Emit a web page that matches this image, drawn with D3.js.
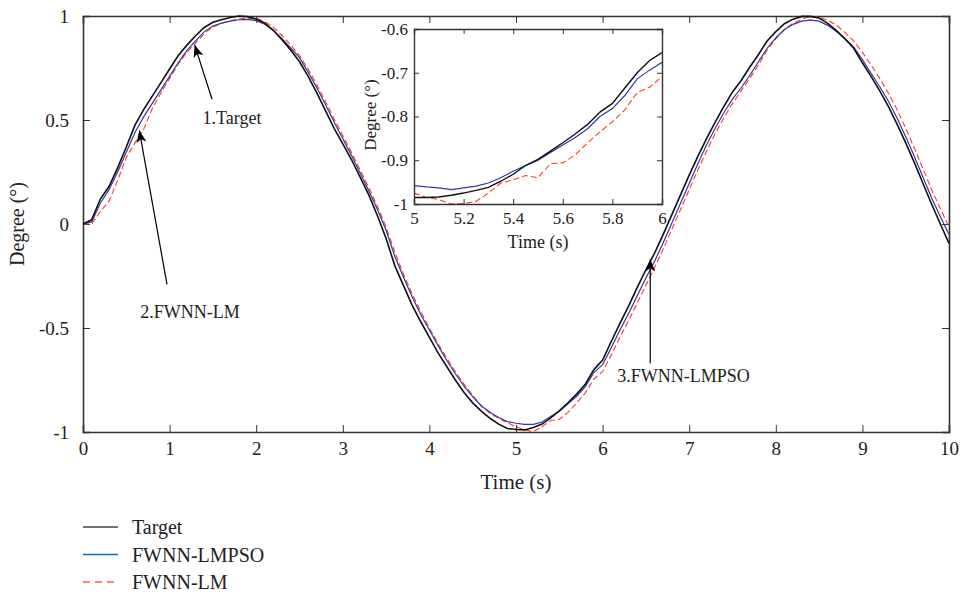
<!DOCTYPE html>
<html>
<head>
<meta charset="utf-8">
<script src="https://cdnjs.cloudflare.com/ajax/libs/d3/7.8.5/d3.min.js"></script>
<style>
  body { margin: 0; background: #fff; }
  svg text { font-family: "Liberation Serif", "DejaVu Serif", serif !important; fill: #222; }
</style>
</head>
<body>
<div class="chart"></div>
<script>
var times = [0,0.1,0.2,0.3,0.4,0.5,0.6,0.7,0.8,0.9,1,1.1,1.2,1.3,1.4,1.5,1.6,1.7,1.8,1.9,2,2.1,2.2,2.3,2.4,2.5,2.6,2.7,2.8,2.9,3,3.1,3.2,3.3,3.4,3.5,3.6,3.7,3.8,3.9,4,4.1,4.2,4.3,4.4,4.5,4.6,4.7,4.8,4.9,5,5.1,5.2,5.3,5.4,5.5,5.6,5.7,5.8,5.9,6,6.1,6.2,6.3,6.4,6.5,6.6,6.7,6.8,6.9,7,7.1,7.2,7.3,7.4,7.5,7.6,7.7,7.8,7.9,8,8.1,8.2,8.3,8.4,8.5,8.6,8.7,8.8,8.9,9,9.1,9.2,9.3,9.4,9.5,9.6,9.7,9.8,9.9,10];

var target = [0,0.02,0.12,0.18,0.27,0.37,0.475,0.55,0.615,0.68,0.745,0.81,0.86,0.905,0.945,0.97,0.982,0.993,1,0.997,0.985,0.965,0.93,0.885,0.835,0.78,0.71,0.63,0.545,0.46,0.385,0.31,0.225,0.14,0.04,-0.07,-0.2,-0.295,-0.39,-0.47,-0.545,-0.62,-0.685,-0.75,-0.81,-0.86,-0.9,-0.934,-0.962,-0.983,-0.988,-0.99,-0.978,-0.962,-0.932,-0.898,-0.86,-0.818,-0.77,-0.70,-0.654,-0.565,-0.478,-0.395,-0.305,-0.22,-0.14,-0.05,0.045,0.14,0.235,0.325,0.41,0.49,0.565,0.635,0.69,0.755,0.815,0.88,0.925,0.963,0.985,0.998,0.998,0.99,0.965,0.93,0.89,0.845,0.775,0.71,0.64,0.565,0.48,0.39,0.295,0.195,0.095,0,-0.093];

var lmpso = [0,0.01,0.10,0.165,0.25,0.345,0.44,0.515,0.58,0.645,0.71,0.775,0.835,0.88,0.925,0.952,0.966,0.975,0.982,0.984,0.978,0.96,0.93,0.89,0.845,0.80,0.73,0.655,0.575,0.49,0.41,0.33,0.245,0.16,0.07,-0.03,-0.155,-0.255,-0.35,-0.435,-0.51,-0.585,-0.655,-0.72,-0.78,-0.83,-0.875,-0.905,-0.93,-0.95,-0.958,-0.963,-0.963,-0.952,-0.925,-0.90,-0.865,-0.828,-0.782,-0.714,-0.676,-0.595,-0.51,-0.43,-0.345,-0.26,-0.18,-0.09,0.005,0.10,0.195,0.29,0.38,0.46,0.535,0.60,0.655,0.715,0.78,0.845,0.895,0.935,0.96,0.975,0.98,0.975,0.955,0.925,0.89,0.85,0.79,0.725,0.66,0.59,0.51,0.42,0.325,0.225,0.125,0.035,-0.05];

var lm = [0,0,0.06,0.11,0.21,0.32,0.39,0.455,0.555,0.63,0.70,0.77,0.825,0.87,0.915,0.948,0.965,0.978,0.985,0.99,0.99,0.972,0.945,0.905,0.86,0.81,0.745,0.67,0.59,0.505,0.425,0.345,0.26,0.175,0.085,-0.015,-0.135,-0.24,-0.335,-0.42,-0.50,-0.575,-0.645,-0.71,-0.77,-0.825,-0.875,-0.91,-0.935,-0.955,-0.975,-0.99,-0.999,-0.975,-0.945,-0.94,-0.906,-0.86,-0.812,-0.745,-0.709,-0.63,-0.545,-0.465,-0.38,-0.295,-0.21,-0.12,-0.025,0.07,0.165,0.26,0.35,0.435,0.51,0.58,0.64,0.70,0.765,0.835,0.89,0.935,0.965,0.985,0.997,0.995,0.98,0.955,0.92,0.88,0.825,0.765,0.70,0.63,0.55,0.46,0.365,0.265,0.165,0.075,-0.015];

// zoomed window 5..6 s, every 0.05 s
var zoomTimes = [5,5.05,5.1,5.15,5.2,5.25,5.3,5.35,5.4,5.45,5.5,5.55,5.6,5.65,5.7,5.75,5.8,5.85,5.9,5.95,6];
var zoomTarget = [-0.985,-0.985,-0.984,-0.98,-0.975,-0.969,-0.962,-0.948,-0.932,-0.912,-0.898,-0.879,-0.86,-0.84,-0.818,-0.79,-0.77,-0.735,-0.70,-0.672,-0.654];
var zoomLmpso = [-0.958,-0.961,-0.963,-0.967,-0.963,-0.959,-0.952,-0.94,-0.925,-0.912,-0.90,-0.882,-0.865,-0.848,-0.828,-0.80,-0.782,-0.752,-0.714,-0.694,-0.676];
var zoomLm = [-0.975,-0.985,-0.99,-1.0,-0.999,-0.994,-0.975,-0.952,-0.945,-0.935,-0.94,-0.908,-0.906,-0.888,-0.86,-0.835,-0.812,-0.785,-0.745,-0.733,-0.709];

var xTicks = [0,1,2,3,4,5,6,7,8,9,10];
var yTicks = [-1,-0.5,0,0.5,1];
var zxTicks = [5,5.2,5.4,5.6,5.8,6];
var zyTicks = [-1,-0.9,-0.8,-0.7,-0.6];

var seriesNames = ["Target", "FWNN-LMPSO", "FWNN-LM"];

var black = "#111", blue = "#3434a8", red = "#ff3a1e";
var serif = "Liberation Serif, serif";

var svg = d3.select(".chart").append("svg")
  .attr("width", 963)
  .attr("height", 594);

// main axes
var x = d3.scaleLinear().domain([0, 10]).range([83, 949]);
var y = d3.scaleLinear().domain([-1, 1]).range([432, 16]);

function fmt(d) { return String(d); }

function styleAxis(size) {
  return function (g) {
    g.attr("font-family", serif);
    g.select(".domain").attr("stroke", "#333").attr("stroke-width", 1.6);
    g.selectAll(".tick line").attr("stroke", "#333").attr("stroke-width", 1);
    g.selectAll(".tick text")
      .attr("font-size", size)
      .style("font-family", serif)
      .attr("fill", "#222");
  };
}

svg.append("g")
  .attr("transform", "translate(0,432)")
  .call(d3.axisBottom(x).tickValues(xTicks).tickSize(-7).tickPadding(10).tickFormat(fmt))
  .call(styleAxis(19));
svg.append("g")
  .attr("transform", "translate(0,16)")
  .call(d3.axisTop(x).tickValues(xTicks).tickSize(-7).tickFormat(""))
  .call(styleAxis(19));
svg.append("g")
  .attr("transform", "translate(83,0)")
  .call(d3.axisLeft(y).tickValues(yTicks).tickSize(-7).tickPadding(14).tickFormat(fmt))
  .call(styleAxis(19));
svg.append("g")
  .attr("transform", "translate(949,0)")
  .call(d3.axisRight(y).tickValues(yTicks).tickSize(-7).tickFormat(""))
  .call(styleAxis(19));

function drawLines(g, xs, ys, t, a, b, c, widths) {
  var line = d3.line()
    .x(function (d, i) { return xs(t[i]); })
    .y(function (d) { return ys(d); });
  g.append("path").datum(c)
    .attr("d", line).attr("fill", "none")
    .attr("stroke", red).attr("stroke-width", widths[2])
    .attr("stroke-dasharray", "6,3");
  g.append("path").datum(b)
    .attr("d", line).attr("fill", "none")
    .attr("stroke", blue).attr("stroke-width", widths[1]);
  g.append("path").datum(a)
    .attr("d", line).attr("fill", "none")
    .attr("stroke", black).attr("stroke-width", widths[0]);
}

drawLines(svg.append("g"), x, y, times, target, lmpso, lm, [1.6, 1.2, 1.1]);

// axis titles
svg.append("text")
  .attr("x", 516).attr("y", 489)
  .attr("text-anchor", "middle")
  .attr("font-size", 21)
  .text("Time (s)");
svg.append("text")
  .attr("transform", "translate(24,224) rotate(-90)")
  .attr("text-anchor", "middle")
  .attr("font-size", 20)
  .text("Degree (°)");

// annotation arrows
svg.append("defs").append("marker")
  .attr("id", "head")
  .attr("viewBox", "0 0 12 10")
  .attr("refX", 12).attr("refY", 5)
  .attr("markerWidth", 12).attr("markerHeight", 10)
  .attr("markerUnits", "userSpaceOnUse")
  .attr("orient", "auto")
  .append("path")
  .attr("d", "M0,0 L12,5 L0,10 L3,5 Z")
  .attr("fill", "#000");

var notes = [
  { label: "1.Target", tail: [1.49, 0.60], tip: [1.29, 0.86], text: [1.38, 0.48] },
  { label: "2.FWNN-LM", tail: [0.97, -0.29], tip: [0.65, 0.45], text: [0.66, -0.45] },
  { label: "3.FWNN-LMPSO", tail: [6.55, -0.67], tip: [6.55, -0.17], text: [6.17, -0.76] }
];

notes.forEach(function (n) {
  svg.append("line")
    .attr("x1", x(n.tail[0])).attr("y1", y(n.tail[1]))
    .attr("x2", x(n.tip[0])).attr("y2", y(n.tip[1]))
    .attr("stroke", "#000").attr("stroke-width", 1.2)
    .attr("marker-end", "url(#head)");
  svg.append("text")
    .attr("x", x(n.text[0])).attr("y", y(n.text[1]))
    .attr("font-size", 18)
    .text(n.label);
});

// inset
var zx = d3.scaleLinear().domain([5, 6]).range([414, 662]);
var zy = d3.scaleLinear().domain([-1, -0.6]).range([204, 29]);

var inset = svg.append("g");
inset.append("rect")
  .attr("x", 414).attr("y", 29)
  .attr("width", 248).attr("height", 175)
  .attr("fill", "#fff");
inset.append("defs").append("clipPath").attr("id", "zclip")
  .append("rect").attr("x", 414).attr("y", 29).attr("width", 248).attr("height", 175);

drawLines(inset.append("g").attr("clip-path", "url(#zclip)"), zx, zy, zoomTimes, zoomTarget, zoomLmpso, zoomLm, [1.4, 1.2, 1.1]);

inset.append("g")
  .attr("transform", "translate(0,204)")
  .call(d3.axisBottom(zx).tickValues(zxTicks).tickSize(-5).tickPadding(8).tickFormat(fmt))
  .call(styleAxis(17));
inset.append("g")
  .attr("transform", "translate(0,29)")
  .call(d3.axisTop(zx).tickValues(zxTicks).tickSize(-5).tickFormat(""))
  .call(styleAxis(17));
inset.append("g")
  .attr("transform", "translate(414,0)")
  .call(d3.axisLeft(zy).tickValues(zyTicks).tickSize(-5).tickPadding(6).tickFormat(fmt))
  .call(styleAxis(17));
inset.append("g")
  .attr("transform", "translate(662,0)")
  .call(d3.axisRight(zy).tickValues(zyTicks).tickSize(-5).tickFormat(""))
  .call(styleAxis(17));
inset.selectAll(".domain").attr("stroke-width", 1.4);

inset.append("text")
  .attr("x", 538).attr("y", 248)
  .attr("text-anchor", "middle")
  .attr("font-size", 18)
  .text("Time (s)");
inset.append("text")
  .attr("transform", "translate(376,115) rotate(-90)")
  .attr("text-anchor", "middle")
  .attr("font-size", 17)
  .text("Degree (°)");

// legend
var legendColors = ["#444", "#0072bd", "#f2603f"];
var legend = svg.append("g");
seriesNames.forEach(function (name, i) {
  var yy = 527 + i * 27.5;
  legend.append("line")
    .attr("x1", 83).attr("x2", 118)
    .attr("y1", yy).attr("y2", yy)
    .attr("stroke", legendColors[i])
    .attr("stroke-width", 1.3)
    .attr("stroke-dasharray", i == 2 ? "7,5" : null);
  legend.append("text")
    .attr("x", 132).attr("y", yy + 7)
    .attr("font-size", 20)
    .text(name);
});
</script>
</body>
</html>
